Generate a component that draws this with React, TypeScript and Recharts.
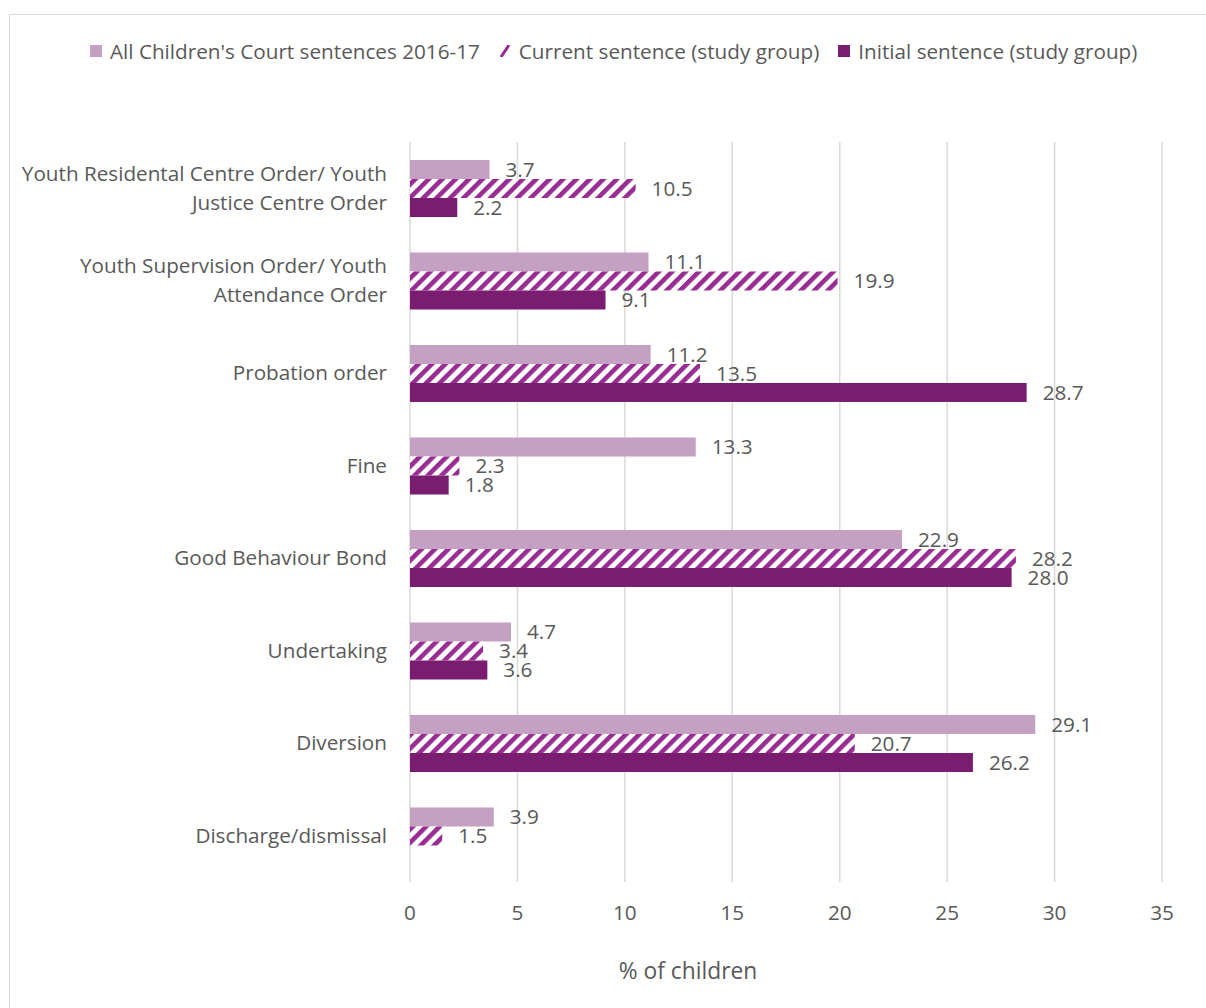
import { BarChart, Bar, XAxis, YAxis, CartesianGrid, LabelList } from 'recharts'

const categories = [
  'Youth Residental Centre Order/ Youth Justice Centre Order',
  'Youth Supervision Order/ Youth Attendance Order',
  'Probation order',
  'Fine',
  'Good Behaviour Bond',
  'Undertaking',
  'Diversion',
  'Discharge/dismissal',
]
const allCourt = [3.7, 11.1, 11.2, 13.3, 22.9, 4.7, 29.1, 3.9]
const currentSentence = [10.5, 19.9, 13.5, 2.3, 28.2, 3.4, 20.7, 1.5]
const initialSentence = [2.2, 9.1, 28.7, 1.8, 28.0, 3.6, 26.2, null]
const xTicks = [0, 5, 10, 15, 20, 25, 30, 35]

const seriesNames = ["All Children's Court sentences 2016-17", 'Current sentence (study group)', 'Initial sentence (study group)']

const data = categories.map((name, i) => ({
  name,
  all: allCourt[i],
  current: currentSentence[i],
  initial: initialSentence[i],
}))

const FONT = '"Open Sans", sans-serif'
const FS = 20.7
const TEXT = '#595959'
const LIGHT = '#C4A0C2'
const HATCH = '#982C92'
const DARK = '#7A1D70'

function wrap(label: string, max = 36) {
  const lines: string[] = []
  let cur = ''
  for (const w of label.split(' ')) {
    const next = cur ? cur + ' ' + w : w
    if (next.length > max && cur) {
      lines.push(cur)
      cur = w
    } else cur = next
  }
  if (cur) lines.push(cur)
  return lines
}

function CategoryTick({ x, y, payload }: any) {
  const lines = wrap(String(payload.value))
  const lh = 29
  const start = y - ((lines.length - 1) * lh) / 2
  return (
    <text x={x} y={start} textAnchor="end" fill={TEXT} fontSize={FS} fontFamily={FONT}>
      {lines.map((l, i) => (
        <tspan key={i} x={x} y={start + i * lh} dy="0.35em">{l}</tspan>
      ))}
    </text>
  )
}

const fmt = (v: any) => (v == null ? '' : Number(v).toFixed(1))

function LegendSwatch({ kind }: { kind: number }) {
  return (
    <svg width={12} height={12} style={{ marginRight: 8 }}>
      {kind === 0 && <rect width={12} height={12} fill={LIGHT} />}
      {kind === 1 && <path d="M2 12 L10 0" stroke={HATCH} strokeWidth={3} />}
      {kind === 2 && <rect width={12} height={12} fill={DARK} />}
    </svg>
  )
}

export default function App() {
  return (
    <div style={{ position: 'fixed', left: 0, top: 0, width: 1206, height: 1008, overflow: 'hidden', background: '#fff', fontFamily: FONT }}>
      <div style={{ position: 'absolute', left: 9, top: 14, width: 1400, height: 1200, border: '1.5px solid #D9D9D9' }} />
      <div style={{ position: 'absolute', left: 90, top: 37, display: 'flex', gap: 19, fontSize: FS, color: TEXT, whiteSpace: 'nowrap' }}>
        {seriesNames.map((n, i) => (
          <div key={n} style={{ display: 'flex', alignItems: 'center' }}>
            <LegendSwatch kind={i} />
            <span>{n}</span>
          </div>
        ))}
      </div>
      <div style={{ position: 'absolute', left: 0, top: 0 }}>
        <BarChart width={1206} height={1008} data={data} layout="vertical" margin={{ top: 142, right: 44, bottom: 26, left: 0 }} barSize={19} barGap={0}>
          <defs>
            <pattern id="hatch" patternUnits="userSpaceOnUse" width={9.5} height={9.5} patternTransform="rotate(45)">
              <rect width={9.5} height={9.5} fill="#fff" />
              <rect width={4.6} height={9.5} fill={HATCH} />
            </pattern>
          </defs>
          <CartesianGrid horizontal={false} stroke="#D9D9D9" strokeWidth={1.5} />
          <XAxis
            type="number"
            domain={[0, 35]}
            ticks={xTicks}
            height={100}
            tickLine={false}
            axisLine={false}
            tickMargin={17}
            tick={{ fontSize: FS, fill: TEXT, fontFamily: FONT }}
            label={{ value: '% of children', position: 'insideBottom', offset: 3, dx: -98, fontSize: 22.8, fill: TEXT, fontFamily: FONT }}
          />
          <YAxis type="category" dataKey="name" width={410} tickLine={false} axisLine={false} tickSize={0} tickMargin={23} tick={<CategoryTick />} interval={0} />
          <Bar dataKey="all" fill={LIGHT} isAnimationActive={false}>
            <LabelList dataKey="all" position="right" offset={16} formatter={fmt} fill={TEXT} fontSize={FS} fontFamily={FONT} />
          </Bar>
          <Bar dataKey="current" fill="url(#hatch)" isAnimationActive={false}>
            <LabelList dataKey="current" position="right" offset={16} formatter={fmt} fill={TEXT} fontSize={FS} fontFamily={FONT} />
          </Bar>
          <Bar dataKey="initial" fill={DARK} isAnimationActive={false}>
            <LabelList dataKey="initial" position="right" offset={16} formatter={fmt} fill={TEXT} fontSize={FS} fontFamily={FONT} />
          </Bar>
        </BarChart>
      </div>
    </div>
  )
}
